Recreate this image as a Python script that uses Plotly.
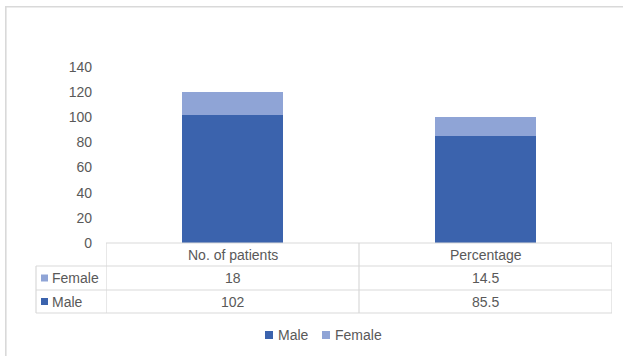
import plotly.graph_objects as go

# Data
categories = ["No. of patients", "Percentage"]
male = [102, 85.5]
female = [18, 14.5]
series_names = ["Male", "Female"]
y_ticks = [0, 20, 40, 60, 80, 100, 120, 140]

W, H = 623, 356
MALE_COLOR = "#3B63AD"
FEMALE_COLOR = "#8FA4D6"
TEXT_COLOR = "#595959"
GRID_COLOR = "#D9D9D9"
FONT = "Liberation Sans, Arial, sans-serif"
FS = 14


def px(x):
    return x / W


def py(y):
    return 1 - y / H


fig = go.Figure()
fig.add_trace(go.Bar(name=series_names[0], x=categories, y=male,
                     marker=dict(color=MALE_COLOR, line=dict(width=0)), width=0.4))
fig.add_trace(go.Bar(name=series_names[1], x=categories, y=female,
                     marker=dict(color=FEMALE_COLOR, line=dict(width=0)), width=0.4))

# Plot area geometry (pixels)
plot_left, plot_right = 106, 612
plot_top, plot_bottom = 67, 243
row_lines = [243, 266, 290, 313]   # data table row boundaries
label_left = 36

shapes = []
# outer chart border
shapes.append(dict(type="rect", xref="paper", yref="paper",
                   x0=px(5.8), x1=px(660), y0=py(6.8), y1=py(400),
                   line=dict(color=GRID_COLOR, width=1.6), fillcolor="rgba(0,0,0,0)", layer="below"))
# table horizontal lines
shapes.append(dict(type="line", xref="paper", yref="paper",
                   x0=px(plot_left), x1=px(plot_right), y0=py(row_lines[0]), y1=py(row_lines[0]),
                   line=dict(color=GRID_COLOR, width=1.2)))
for yl in row_lines[1:]:
    shapes.append(dict(type="line", xref="paper", yref="paper",
                       x0=px(label_left), x1=px(plot_right), y0=py(yl), y1=py(yl),
                       line=dict(color=GRID_COLOR, width=1.2)))
# table vertical lines at category boundaries
for i in range(len(categories) + 1):
    shapes.append(dict(type="line", xref="x", yref="paper",
                       x0=i - 0.5, x1=i - 0.5, y0=py(row_lines[0]), y1=py(row_lines[-1]),
                       line=dict(color=GRID_COLOR, width=1.2)))
shapes.append(dict(type="line", xref="paper", yref="paper",
                   x0=px(label_left), x1=px(label_left), y0=py(row_lines[1]), y1=py(row_lines[-1]),
                   line=dict(color=GRID_COLOR, width=1.2)))

annotations = []
# header row
for i, c in enumerate(categories):
    annotations.append(dict(xref="x", yref="paper", x=i, y=py((row_lines[0] + row_lines[1]) / 2),
                            text=c, showarrow=False, xanchor="center", yanchor="middle",
                            font=dict(size=FS, color=TEXT_COLOR, family=FONT)))

# value rows: Female first, then Male
table_rows = [(series_names[1], female, FEMALE_COLOR), (series_names[0], male, MALE_COLOR)]
for r, (name, vals, col) in enumerate(table_rows):
    yc = (row_lines[r + 1] + row_lines[r + 2]) / 2
    shapes.append(dict(type="rect", xref="paper", yref="paper",
                       x0=px(41), x1=px(48), y0=py(yc - 3.5), y1=py(yc + 3.5),
                       line=dict(width=0), fillcolor=col))
    annotations.append(dict(xref="paper", yref="paper", x=px(50), y=py(yc),
                            text=name, showarrow=False, xanchor="left", yanchor="middle",
                            font=dict(size=FS, color=TEXT_COLOR, family=FONT)))
    for i, v in enumerate(vals):
        annotations.append(dict(xref="x", yref="paper", x=i, y=py(yc),
                                text=f"{v:g}", showarrow=False, xanchor="center", yanchor="middle",
                                font=dict(size=FS, color=TEXT_COLOR, family=FONT)))

# legend below the table
legend_y = 335
legend_items = [(series_names[0], MALE_COLOR, 265), (series_names[1], FEMALE_COLOR, 322)]
for name, col, x0 in legend_items:
    shapes.append(dict(type="rect", xref="paper", yref="paper",
                       x0=px(x0), x1=px(x0 + 8), y0=py(legend_y - 4), y1=py(legend_y + 4),
                       line=dict(width=0), fillcolor=col))
    annotations.append(dict(xref="paper", yref="paper", x=px(x0 + 10.5), y=py(legend_y),
                            text=name, showarrow=False, xanchor="left", yanchor="middle",
                            font=dict(size=FS, color=TEXT_COLOR, family=FONT)))

fig.update_layout(
    width=W, height=H,
    margin=dict(l=0, r=0, t=0, b=0, autoexpand=False),
    paper_bgcolor="white", plot_bgcolor="white",
    barmode="stack",
    showlegend=False,
    font=dict(family=FONT, size=FS, color=TEXT_COLOR),
    xaxis=dict(domain=[px(plot_left), px(plot_right)], range=[-0.5, 1.5], automargin=False,
               showticklabels=False, showgrid=False, zeroline=False, showline=False, ticks=""),
    yaxis=dict(domain=[py(plot_bottom), py(plot_top)], range=[0, 140], automargin=False,
               tickvals=y_ticks, showgrid=False, zeroline=False, showline=False, ticks="",
               ticklabelstandoff=13, tickfont=dict(size=FS, color=TEXT_COLOR, family=FONT)),
    shapes=shapes,
    annotations=annotations,
)

fig.write_html("out.html")
